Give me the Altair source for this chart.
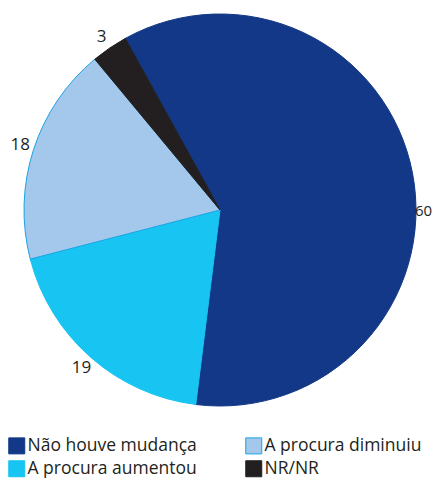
import math
import altair as alt
import pandas as pd

# data
categories = ["Não houve mudança", "A procura aumentou", "A procura diminuiu", "NR/NR"]
values = [60, 19, 18, 3]
legend_order = ["Não houve mudança", "A procura aumentou", "A procura diminuiu", "NR/NR"]
fill_colors = ["#123887", "#17c4f2", "#a3c8ec", "#231f20"]
stroke_colors = ["#123887", "#17c4f2", "#1ba3e2", "#231f20"]

df = pd.DataFrame({"categoria": categories, "valor": values, "ordem": list(range(len(values)))})

start = math.radians(-28.9)
theta_scale = alt.Scale(range=[start, start + 2 * math.pi])

FONT = "Open Sans"
TXT = "#231f20"

base = alt.Chart(df).encode(
    theta=alt.Theta("valor:Q", stack=True, scale=theta_scale),
    order=alt.Order("ordem:Q"),
)

arcs = base.mark_arc(outerRadius=196, strokeWidth=1).encode(
    color=alt.Color(
        "categoria:N",
        scale=alt.Scale(domain=legend_order, range=fill_colors),
        legend=alt.Legend(title=None),
    ),
    stroke=alt.Stroke(
        "categoria:N",
        scale=alt.Scale(domain=legend_order, range=stroke_colors),
        legend=alt.Legend(title=None),
    ),
)

labels = base.mark_text(
    radius=210, fontSize=17, font=FONT, color=TXT, align="center", baseline="middle"
).encode(
    text=alt.Text("valor:Q"),
    opacity=alt.condition("datum.valor == 60", alt.value(0), alt.value(1)),
)

label_big = base.mark_text(
    radius=211, fontSize=15, font=FONT, color=TXT, align="right", baseline="middle", dy=41, dx=5
).encode(
    text=alt.Text("valor:Q"),
    opacity=alt.condition("datum.valor == 60", alt.value(1), alt.value(0)),
)

chart = (
    alt.layer(arcs, labels, label_big)
    .properties(
        width=424,
        height=404,
        autosize=alt.AutoSizeParams(type="none"),
        padding={"left": 0, "top": 0, "right": 0, "bottom": 68},
    )
    .configure_view(stroke=None)
    .configure_legend(
        orient="none",
        legendX=0,
        legendY=429,
        columns=2,
        symbolType="square",
        symbolSize=256,
        symbolStrokeWidth=1,
        labelFont=FONT,
        labelFontSize=17.5,
        labelColor=TXT,
        labelOffset=2,
        rowPadding=2,
        columnPadding=46,
        labelLimit=300,
    )
)

chart.save("out.html", embed_options={"renderer": "svg", "actions": False})
